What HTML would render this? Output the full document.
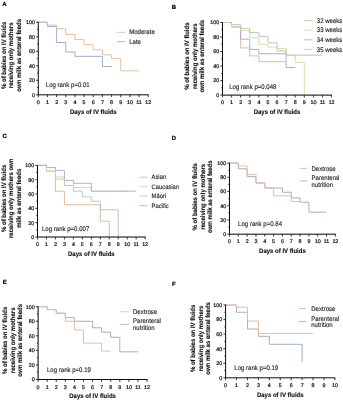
<!DOCTYPE html>
<html><head><meta charset="utf-8"><style>
html,body{margin:0;padding:0;background:#fff;}
svg{display:block;}
text{font-family:"Liberation Sans", sans-serif;text-rendering:geometricPrecision;}
.n{stroke:#222;stroke-width:1.2px;}
.t{stroke:#111;stroke-width:0.22px;}
.L{stroke:#000;stroke-width:0.2px;}
.b{stroke:#000;stroke-width:0.11px;}
</style></head><body>
<svg width="343" height="400" viewBox="0 0 343 400">
<defs><filter id="bl" x="0" y="0" width="343" height="400" filterUnits="userSpaceOnUse"><feGaussianBlur stdDeviation="0.45"/></filter></defs>
<rect width="343" height="400" fill="#fff"/>
<g filter="url(#bl)">
<text x="2.3" y="6.2" class="L" font-size="6.0" font-weight="bold" fill="#000">A</text>
<path d="M38.3 22.2 H47.46 V26.56 H56.62 V42.53 H65.78 V51.97 H74.94 V56.32 H102.42 V66.49 H111.58" fill="none" stroke="#A0AFCC" stroke-width="1.0"/>
<path d="M38.3 22.2 H47.46 V25.1 H56.62 V28.73 H65.78 V34.54 H74.94 V39.62 H84.1 V44.71 H93.26 V49.79 H102.42 V54.87 H111.58 V58.5 H120.74 V70.84 H139.06" fill="none" stroke="#E6BF9F" stroke-width="1.0"/>
<path d="M38.3 21.8 V94.8 H148.62" fill="none" stroke="#0a0a0a" stroke-width="1.0"/>
<path d="M36.1 94.8 H38.3 M37.1 87.54 H38.3 M36.1 80.28 H38.3 M37.1 73.02 H38.3 M36.1 65.76 H38.3 M37.1 58.5 H38.3 M36.1 51.24 H38.3 M37.1 43.98 H38.3 M36.1 36.72 H38.3 M37.1 29.46 H38.3 M36.1 22.2 H38.3 M38.3 94.8 V97.2 M47.46 94.8 V97.2 M56.62 94.8 V97.2 M65.78 94.8 V97.2 M74.94 94.8 V97.2 M84.1 94.8 V97.2 M93.26 94.8 V97.2 M102.42 94.8 V97.2 M111.58 94.8 V97.2 M120.74 94.8 V97.2 M129.9 94.8 V97.2 M139.06 94.8 V97.2 M148.22 94.8 V97.2" fill="none" stroke="#0a0a0a" stroke-width="0.8"/>
<text x="34.9" y="96.7" class="t" font-size="5.3" text-anchor="end" fill="#1a1a1a">0</text>
<text x="34.9" y="82.18" class="t" font-size="5.3" text-anchor="end" fill="#1a1a1a">20</text>
<text x="34.9" y="67.66" class="t" font-size="5.3" text-anchor="end" fill="#1a1a1a">40</text>
<text x="34.9" y="53.14" class="t" font-size="5.3" text-anchor="end" fill="#1a1a1a">60</text>
<text x="34.9" y="38.62" class="t" font-size="5.3" text-anchor="end" fill="#1a1a1a">80</text>
<text x="34.9" y="24.1" class="t" font-size="5.3" text-anchor="end" fill="#1a1a1a">100</text>
<text x="38.3" y="103.9" class="t" font-size="5.3" text-anchor="middle" fill="#1a1a1a">0</text>
<text x="47.46" y="103.9" class="t" font-size="5.3" text-anchor="middle" fill="#1a1a1a">1</text>
<text x="56.62" y="103.9" class="t" font-size="5.3" text-anchor="middle" fill="#1a1a1a">2</text>
<text x="65.78" y="103.9" class="t" font-size="5.3" text-anchor="middle" fill="#1a1a1a">3</text>
<text x="74.94" y="103.9" class="t" font-size="5.3" text-anchor="middle" fill="#1a1a1a">4</text>
<text x="84.1" y="103.9" class="t" font-size="5.3" text-anchor="middle" fill="#1a1a1a">5</text>
<text x="93.26" y="103.9" class="t" font-size="5.3" text-anchor="middle" fill="#1a1a1a">6</text>
<text x="102.42" y="103.9" class="t" font-size="5.3" text-anchor="middle" fill="#1a1a1a">7</text>
<text x="111.58" y="103.9" class="t" font-size="5.3" text-anchor="middle" fill="#1a1a1a">8</text>
<text x="120.74" y="103.9" class="t" font-size="5.3" text-anchor="middle" fill="#1a1a1a">9</text>
<text x="129.9" y="103.9" class="t" font-size="5.3" text-anchor="middle" fill="#1a1a1a">10</text>
<text x="139.06" y="103.9" class="t" font-size="5.3" text-anchor="middle" fill="#1a1a1a">11</text>
<text x="148.22" y="103.9" class="t" font-size="5.3" text-anchor="middle" fill="#1a1a1a">12</text>
<text transform="translate(93.26 113.5) scale(1 1.1)" font-size="6" class="b" font-weight="bold" text-anchor="middle" fill="#111">Days of IV fluids</text>
<text transform="translate(5.8 55.3) rotate(-90) scale(1 1.08)" font-size="6" class="b" font-weight="bold" text-anchor="middle" fill="#111">% of babies on IV fluids</text>
<text transform="translate(13.3 55.3) rotate(-90) scale(1 1.08)" font-size="6" class="b" font-weight="bold" text-anchor="middle" fill="#111">receiving only mothers</text>
<text transform="translate(20.8 55.3) rotate(-90) scale(1 1.08)" font-size="6" class="b" font-weight="bold" text-anchor="middle" fill="#111">own milk as enteral feeds</text>
<text transform="translate(45.8 86.7) scale(0.1 0.1100)" class="n" font-size="60.5" fill="#1a1a1a">Log rank p=0.01</text>
<path d="M116.8 32.3 H125.2" stroke="#E6BF9F" stroke-width="0.9"/>
<text transform="translate(129.2 34.4) scale(0.1 0.1100)" class="n" font-size="60.5" fill="#1a1a1a">Moderate</text>
<path d="M116.8 41.7 H125.2" stroke="#A0AFCC" stroke-width="0.9"/>
<text transform="translate(129.2 43.8) scale(0.1 0.1100)" class="n" font-size="60.5" fill="#1a1a1a">Late</text>
<text x="171.8" y="8.5" class="L" font-size="6.0" font-weight="bold" fill="#000">B</text>
<path d="M222.5 22.5 H231.59 V26.86 H240.68 V47.91 H249.77 V55.9 H258.86 V61.7 H286.13" fill="none" stroke="#E6B7A2" stroke-width="1.0"/>
<path d="M222.5 22.5 H231.59 V26.86 H240.68 V39.2 H249.77 V49.36 H258.86 V53.72 H286.13 V67.51 H295.22" fill="none" stroke="#A8AFD6" stroke-width="1.0"/>
<path d="M222.5 22.5 H231.59 V26.86 H240.68 V30.49 H249.77 V37.75 H258.86 V44.28 H267.95 V47.18 H277.04 V48.64 H286.13 V55.17 H295.22 V62.43 H304.31 V95.1" fill="none" stroke="#E4D7A8" stroke-width="1.0"/>
<path d="M222.5 22.5 H231.59 V24.68 H240.68 V28.31 H249.77 V32.66 H258.86 V36.29 H267.95 V42.83 H277.04 V50.81 H286.13 V55.17 H322.49" fill="none" stroke="#B2CDB2" stroke-width="1.0"/>
<path d="M222.5 22.1 V95.1 H331.98" fill="none" stroke="#0a0a0a" stroke-width="1.0"/>
<path d="M220.3 95.1 H222.5 M221.3 87.84 H222.5 M220.3 80.58 H222.5 M221.3 73.32 H222.5 M220.3 66.06 H222.5 M221.3 58.8 H222.5 M220.3 51.54 H222.5 M221.3 44.28 H222.5 M220.3 37.02 H222.5 M221.3 29.76 H222.5 M220.3 22.5 H222.5 M222.5 95.1 V97.5 M231.59 95.1 V97.5 M240.68 95.1 V97.5 M249.77 95.1 V97.5 M258.86 95.1 V97.5 M267.95 95.1 V97.5 M277.04 95.1 V97.5 M286.13 95.1 V97.5 M295.22 95.1 V97.5 M304.31 95.1 V97.5 M313.4 95.1 V97.5 M322.49 95.1 V97.5 M331.58 95.1 V97.5" fill="none" stroke="#0a0a0a" stroke-width="0.8"/>
<text x="219.1" y="97" class="t" font-size="5.3" text-anchor="end" fill="#1a1a1a">0</text>
<text x="219.1" y="82.48" class="t" font-size="5.3" text-anchor="end" fill="#1a1a1a">20</text>
<text x="219.1" y="67.96" class="t" font-size="5.3" text-anchor="end" fill="#1a1a1a">40</text>
<text x="219.1" y="53.44" class="t" font-size="5.3" text-anchor="end" fill="#1a1a1a">60</text>
<text x="219.1" y="38.92" class="t" font-size="5.3" text-anchor="end" fill="#1a1a1a">80</text>
<text x="219.1" y="24.4" class="t" font-size="5.3" text-anchor="end" fill="#1a1a1a">100</text>
<text x="222.5" y="104.2" class="t" font-size="5.3" text-anchor="middle" fill="#1a1a1a">0</text>
<text x="231.59" y="104.2" class="t" font-size="5.3" text-anchor="middle" fill="#1a1a1a">1</text>
<text x="240.68" y="104.2" class="t" font-size="5.3" text-anchor="middle" fill="#1a1a1a">2</text>
<text x="249.77" y="104.2" class="t" font-size="5.3" text-anchor="middle" fill="#1a1a1a">3</text>
<text x="258.86" y="104.2" class="t" font-size="5.3" text-anchor="middle" fill="#1a1a1a">4</text>
<text x="267.95" y="104.2" class="t" font-size="5.3" text-anchor="middle" fill="#1a1a1a">5</text>
<text x="277.04" y="104.2" class="t" font-size="5.3" text-anchor="middle" fill="#1a1a1a">6</text>
<text x="286.13" y="104.2" class="t" font-size="5.3" text-anchor="middle" fill="#1a1a1a">7</text>
<text x="295.22" y="104.2" class="t" font-size="5.3" text-anchor="middle" fill="#1a1a1a">8</text>
<text x="304.31" y="104.2" class="t" font-size="5.3" text-anchor="middle" fill="#1a1a1a">9</text>
<text x="313.4" y="104.2" class="t" font-size="5.3" text-anchor="middle" fill="#1a1a1a">10</text>
<text x="322.49" y="104.2" class="t" font-size="5.3" text-anchor="middle" fill="#1a1a1a">11</text>
<text x="331.58" y="104.2" class="t" font-size="5.3" text-anchor="middle" fill="#1a1a1a">12</text>
<text transform="translate(277.04 113.8) scale(1 1.1)" font-size="6" class="b" font-weight="bold" text-anchor="middle" fill="#111">Days of IV fluids</text>
<text transform="translate(189.4 56.2) rotate(-90) scale(1 1.08)" font-size="6" class="b" font-weight="bold" text-anchor="middle" fill="#111">% of babies on IV fluids</text>
<text transform="translate(196.9 56.2) rotate(-90) scale(1 1.08)" font-size="6" class="b" font-weight="bold" text-anchor="middle" fill="#111">receiving only mothers</text>
<text transform="translate(204.4 56.2) rotate(-90) scale(1 1.08)" font-size="6" class="b" font-weight="bold" text-anchor="middle" fill="#111">own milk as enteral feeds</text>
<text transform="translate(229.2 89.3) scale(0.1 0.1100)" class="n" font-size="60.5" fill="#1a1a1a">Log rank p=0.048</text>
<path d="M304.5 20.6 H312.7" stroke="#B2CDB2" stroke-width="0.9"/>
<text transform="translate(316.8 22.7) scale(0.1 0.1100)" class="n" font-size="60.5" fill="#1a1a1a">32 weeks</text>
<path d="M304.5 30.2 H312.7" stroke="#E4D7A8" stroke-width="0.9"/>
<text transform="translate(316.8 32.3) scale(0.1 0.1100)" class="n" font-size="60.5" fill="#1a1a1a">33 weeks</text>
<path d="M304.5 39.8 H312.7" stroke="#A8AFD6" stroke-width="0.9"/>
<text transform="translate(316.8 41.9) scale(0.1 0.1100)" class="n" font-size="60.5" fill="#1a1a1a">34 weeks</text>
<path d="M304.5 49.4 H312.7" stroke="#E6B7A2" stroke-width="0.9"/>
<text transform="translate(316.8 51.5) scale(0.1 0.1100)" class="n" font-size="60.5" fill="#1a1a1a">35 weeks</text>
<text x="2.5" y="138.4" class="L" font-size="6.0" font-weight="bold" fill="#000">C</text>
<path d="M37.5 165.4 H46.47 V171.13 H55.44 V191.18 H64.41 V204.78 H100.29 V221.25 H109.26 V237" fill="none" stroke="#E3BC9C" stroke-width="1.0"/>
<path d="M37.5 165.4 H46.47 V167.55 H55.44 V179 H64.41 V185.45 H73.38 V191.18 H82.35 V196.9 H91.32 V201.2 H100.29 V209.79 H118.23 V237" fill="none" stroke="#B5CEB4" stroke-width="1.0"/>
<path d="M37.5 165.4 H46.47 V171.13 H55.44 V176.86 H64.41 V180.44 H73.38 V187.6 H91.32 V191.18 H127.2" fill="none" stroke="#E0D5A8" stroke-width="1.0"/>
<path d="M37.5 165.4 H46.47 V167.55 H55.44 V170.41 H64.41 V180.44 H73.38 V183.3 H91.32 V191.18 H136.17" fill="none" stroke="#A6BAD4" stroke-width="1.0"/>
<path d="M37.5 165 V237 H145.54" fill="none" stroke="#0a0a0a" stroke-width="1.0"/>
<path d="M35.3 237 H37.5 M36.3 229.84 H37.5 M35.3 222.68 H37.5 M36.3 215.52 H37.5 M35.3 208.36 H37.5 M36.3 201.2 H37.5 M35.3 194.04 H37.5 M36.3 186.88 H37.5 M35.3 179.72 H37.5 M36.3 172.56 H37.5 M35.3 165.4 H37.5 M37.5 237 V239.4 M46.47 237 V239.4 M55.44 237 V239.4 M64.41 237 V239.4 M73.38 237 V239.4 M82.35 237 V239.4 M91.32 237 V239.4 M100.29 237 V239.4 M109.26 237 V239.4 M118.23 237 V239.4 M127.2 237 V239.4 M136.17 237 V239.4 M145.14 237 V239.4" fill="none" stroke="#0a0a0a" stroke-width="0.8"/>
<text x="34.1" y="238.9" class="t" font-size="5.3" text-anchor="end" fill="#1a1a1a">0</text>
<text x="34.1" y="224.58" class="t" font-size="5.3" text-anchor="end" fill="#1a1a1a">20</text>
<text x="34.1" y="210.26" class="t" font-size="5.3" text-anchor="end" fill="#1a1a1a">40</text>
<text x="34.1" y="195.94" class="t" font-size="5.3" text-anchor="end" fill="#1a1a1a">60</text>
<text x="34.1" y="181.62" class="t" font-size="5.3" text-anchor="end" fill="#1a1a1a">80</text>
<text x="34.1" y="167.3" class="t" font-size="5.3" text-anchor="end" fill="#1a1a1a">100</text>
<text x="37.5" y="246.1" class="t" font-size="5.3" text-anchor="middle" fill="#1a1a1a">0</text>
<text x="46.47" y="246.1" class="t" font-size="5.3" text-anchor="middle" fill="#1a1a1a">1</text>
<text x="55.44" y="246.1" class="t" font-size="5.3" text-anchor="middle" fill="#1a1a1a">2</text>
<text x="64.41" y="246.1" class="t" font-size="5.3" text-anchor="middle" fill="#1a1a1a">3</text>
<text x="73.38" y="246.1" class="t" font-size="5.3" text-anchor="middle" fill="#1a1a1a">4</text>
<text x="82.35" y="246.1" class="t" font-size="5.3" text-anchor="middle" fill="#1a1a1a">5</text>
<text x="91.32" y="246.1" class="t" font-size="5.3" text-anchor="middle" fill="#1a1a1a">6</text>
<text x="100.29" y="246.1" class="t" font-size="5.3" text-anchor="middle" fill="#1a1a1a">7</text>
<text x="109.26" y="246.1" class="t" font-size="5.3" text-anchor="middle" fill="#1a1a1a">8</text>
<text x="118.23" y="246.1" class="t" font-size="5.3" text-anchor="middle" fill="#1a1a1a">9</text>
<text x="127.2" y="246.1" class="t" font-size="5.3" text-anchor="middle" fill="#1a1a1a">10</text>
<text x="136.17" y="246.1" class="t" font-size="5.3" text-anchor="middle" fill="#1a1a1a">11</text>
<text x="145.14" y="246.1" class="t" font-size="5.3" text-anchor="middle" fill="#1a1a1a">12</text>
<text transform="translate(91.32 255.7) scale(1 1.1)" font-size="6" class="b" font-weight="bold" text-anchor="middle" fill="#111">Days of IV fluids</text>
<text transform="translate(5.8 198.3) rotate(-90) scale(1 1.08)" font-size="6" class="b" font-weight="bold" text-anchor="middle" fill="#111">% of babies on IV fluids</text>
<text transform="translate(13.3 198.3) rotate(-90) scale(1 1.08)" font-size="6" class="b" font-weight="bold" text-anchor="middle" fill="#111">receiving only mothers own</text>
<text transform="translate(20.8 198.3) rotate(-90) scale(1 1.08)" font-size="6" class="b" font-weight="bold" text-anchor="middle" fill="#111">milk as enteral feeds</text>
<text transform="translate(42 231.3) scale(0.1 0.1100)" class="n" font-size="60.5" fill="#1a1a1a">Log rank p=0.007</text>
<path d="M139.2 177.2 H147.9" stroke="#B5CEB4" stroke-width="0.9"/>
<text transform="translate(151.6 179.3) scale(0.1 0.1100)" class="n" font-size="58" fill="#1a1a1a">Asian</text>
<path d="M139.2 186.7 H147.9" stroke="#E0D5A8" stroke-width="0.9"/>
<text transform="translate(151.6 188.8) scale(0.1 0.1100)" class="n" font-size="58" fill="#1a1a1a">Caucasian</text>
<path d="M139.2 196.1 H147.9" stroke="#E3BC9C" stroke-width="0.9"/>
<text transform="translate(151.6 198.2) scale(0.1 0.1100)" class="n" font-size="58" fill="#1a1a1a">Māori</text>
<path d="M139.2 205.7 H147.9" stroke="#A6BAD4" stroke-width="0.9"/>
<text transform="translate(151.6 207.8) scale(0.1 0.1100)" class="n" font-size="58" fill="#1a1a1a">Pacific</text>
<text x="171.8" y="140.1" class="L" font-size="6.0" font-weight="bold" fill="#000">D</text>
<path d="M229.5 163.1 H238.32 V168.79 H247.14 V176.61 H255.96 V183.01 H264.78 V187.98 H282.42 V192.25 H291.24 V197.94 H300.06 V202.2 H308.88 V212.16 H326.52" fill="none" stroke="#A0AFCC" stroke-width="1.0"/>
<path d="M229.5 163.1 H238.32 V165.94 H247.14 V174.48 H255.96 V183.01 H264.78 V187.98 H273.6 V195.81 H291.24 V201.49 H300.06" fill="none" stroke="#E6BF9F" stroke-width="1.0"/>
<path d="M229.5 162.7 V234.2 H335.74" fill="none" stroke="#0a0a0a" stroke-width="1.0"/>
<path d="M227.3 234.2 H229.5 M228.3 227.09 H229.5 M227.3 219.98 H229.5 M228.3 212.87 H229.5 M227.3 205.76 H229.5 M228.3 198.65 H229.5 M227.3 191.54 H229.5 M228.3 184.43 H229.5 M227.3 177.32 H229.5 M228.3 170.21 H229.5 M227.3 163.1 H229.5 M229.5 234.2 V236.6 M238.32 234.2 V236.6 M247.14 234.2 V236.6 M255.96 234.2 V236.6 M264.78 234.2 V236.6 M273.6 234.2 V236.6 M282.42 234.2 V236.6 M291.24 234.2 V236.6 M300.06 234.2 V236.6 M308.88 234.2 V236.6 M317.7 234.2 V236.6 M326.52 234.2 V236.6 M335.34 234.2 V236.6" fill="none" stroke="#0a0a0a" stroke-width="0.8"/>
<text x="226.1" y="236.1" class="t" font-size="5.3" text-anchor="end" fill="#1a1a1a">0</text>
<text x="226.1" y="221.88" class="t" font-size="5.3" text-anchor="end" fill="#1a1a1a">20</text>
<text x="226.1" y="207.66" class="t" font-size="5.3" text-anchor="end" fill="#1a1a1a">40</text>
<text x="226.1" y="193.44" class="t" font-size="5.3" text-anchor="end" fill="#1a1a1a">60</text>
<text x="226.1" y="179.22" class="t" font-size="5.3" text-anchor="end" fill="#1a1a1a">80</text>
<text x="226.1" y="165" class="t" font-size="5.3" text-anchor="end" fill="#1a1a1a">100</text>
<text x="229.5" y="243.3" class="t" font-size="5.3" text-anchor="middle" fill="#1a1a1a">0</text>
<text x="238.32" y="243.3" class="t" font-size="5.3" text-anchor="middle" fill="#1a1a1a">1</text>
<text x="247.14" y="243.3" class="t" font-size="5.3" text-anchor="middle" fill="#1a1a1a">2</text>
<text x="255.96" y="243.3" class="t" font-size="5.3" text-anchor="middle" fill="#1a1a1a">3</text>
<text x="264.78" y="243.3" class="t" font-size="5.3" text-anchor="middle" fill="#1a1a1a">4</text>
<text x="273.6" y="243.3" class="t" font-size="5.3" text-anchor="middle" fill="#1a1a1a">5</text>
<text x="282.42" y="243.3" class="t" font-size="5.3" text-anchor="middle" fill="#1a1a1a">6</text>
<text x="291.24" y="243.3" class="t" font-size="5.3" text-anchor="middle" fill="#1a1a1a">7</text>
<text x="300.06" y="243.3" class="t" font-size="5.3" text-anchor="middle" fill="#1a1a1a">8</text>
<text x="308.88" y="243.3" class="t" font-size="5.3" text-anchor="middle" fill="#1a1a1a">9</text>
<text x="317.7" y="243.3" class="t" font-size="5.3" text-anchor="middle" fill="#1a1a1a">10</text>
<text x="326.52" y="243.3" class="t" font-size="5.3" text-anchor="middle" fill="#1a1a1a">11</text>
<text x="335.34" y="243.3" class="t" font-size="5.3" text-anchor="middle" fill="#1a1a1a">12</text>
<text transform="translate(282.42 252.9) scale(1 1.1)" font-size="6" class="b" font-weight="bold" text-anchor="middle" fill="#111">Days of IV fluids</text>
<text transform="translate(197.2 196.75) rotate(-90) scale(1 1.08)" font-size="6" class="b" font-weight="bold" text-anchor="middle" fill="#111">% of babies on IV fluids</text>
<text transform="translate(204.7 196.75) rotate(-90) scale(1 1.08)" font-size="6" class="b" font-weight="bold" text-anchor="middle" fill="#111">receiving only mothers</text>
<text transform="translate(212.2 196.75) rotate(-90) scale(1 1.08)" font-size="6" class="b" font-weight="bold" text-anchor="middle" fill="#111">own milk as enteral feeds</text>
<text transform="translate(238.1 225.9) scale(0.1 0.1100)" class="n" font-size="60.5" fill="#1a1a1a">Log rank p=0.84</text>
<path d="M300 168.5 H307" stroke="#E6BF9F" stroke-width="0.9"/>
<text transform="translate(311.5 170.6) scale(0.1 0.1100)" class="n" font-size="60.5" fill="#1a1a1a">Dextrose</text>
<path d="M300 180.9 H307" stroke="#A0AFCC" stroke-width="0.9"/>
<text transform="translate(311.5 179.9) scale(0.1 0.1100)" class="n" font-size="60.5" fill="#1a1a1a">Parenteral</text>
<text transform="translate(311.5 186.6) scale(0.1 0.1100)" class="n" font-size="60.5" fill="#1a1a1a">nutrition</text>
<text x="2.8" y="284.3" class="L" font-size="6.0" font-weight="bold" fill="#000">E</text>
<path d="M38.1 306.7 H47.18 V309.61 H56.26 V313.25 H65.34 V317.62 H74.42 V321.26 H92.58 V327.81 H101.66 V332.18 H110.74 V337.28 H119.82 V351.84 H137.98" fill="none" stroke="#A0AFCC" stroke-width="1.0"/>
<path d="M38.1 306.7 H47.18 V309.61 H56.26 V313.25 H65.34 V321.26 H74.42 V330 H83.5 V343.1 H101.66 V351.11 H110.74" fill="none" stroke="#E6BF9F" stroke-width="1.0"/>
<path d="M38.1 306.3 V379.5 H147.46" fill="none" stroke="#0a0a0a" stroke-width="1.0"/>
<path d="M35.9 379.5 H38.1 M36.9 372.22 H38.1 M35.9 364.94 H38.1 M36.9 357.66 H38.1 M35.9 350.38 H38.1 M36.9 343.1 H38.1 M35.9 335.82 H38.1 M36.9 328.54 H38.1 M35.9 321.26 H38.1 M36.9 313.98 H38.1 M35.9 306.7 H38.1 M38.1 379.5 V381.9 M47.18 379.5 V381.9 M56.26 379.5 V381.9 M65.34 379.5 V381.9 M74.42 379.5 V381.9 M83.5 379.5 V381.9 M92.58 379.5 V381.9 M101.66 379.5 V381.9 M110.74 379.5 V381.9 M119.82 379.5 V381.9 M128.9 379.5 V381.9 M137.98 379.5 V381.9 M147.06 379.5 V381.9" fill="none" stroke="#0a0a0a" stroke-width="0.8"/>
<text x="34.7" y="381.4" class="t" font-size="5.3" text-anchor="end" fill="#1a1a1a">0</text>
<text x="34.7" y="366.84" class="t" font-size="5.3" text-anchor="end" fill="#1a1a1a">20</text>
<text x="34.7" y="352.28" class="t" font-size="5.3" text-anchor="end" fill="#1a1a1a">40</text>
<text x="34.7" y="337.72" class="t" font-size="5.3" text-anchor="end" fill="#1a1a1a">60</text>
<text x="34.7" y="323.16" class="t" font-size="5.3" text-anchor="end" fill="#1a1a1a">80</text>
<text x="34.7" y="308.6" class="t" font-size="5.3" text-anchor="end" fill="#1a1a1a">100</text>
<text x="38.1" y="388.6" class="t" font-size="5.3" text-anchor="middle" fill="#1a1a1a">0</text>
<text x="47.18" y="388.6" class="t" font-size="5.3" text-anchor="middle" fill="#1a1a1a">1</text>
<text x="56.26" y="388.6" class="t" font-size="5.3" text-anchor="middle" fill="#1a1a1a">2</text>
<text x="65.34" y="388.6" class="t" font-size="5.3" text-anchor="middle" fill="#1a1a1a">3</text>
<text x="74.42" y="388.6" class="t" font-size="5.3" text-anchor="middle" fill="#1a1a1a">4</text>
<text x="83.5" y="388.6" class="t" font-size="5.3" text-anchor="middle" fill="#1a1a1a">5</text>
<text x="92.58" y="388.6" class="t" font-size="5.3" text-anchor="middle" fill="#1a1a1a">6</text>
<text x="101.66" y="388.6" class="t" font-size="5.3" text-anchor="middle" fill="#1a1a1a">7</text>
<text x="110.74" y="388.6" class="t" font-size="5.3" text-anchor="middle" fill="#1a1a1a">8</text>
<text x="119.82" y="388.6" class="t" font-size="5.3" text-anchor="middle" fill="#1a1a1a">9</text>
<text x="128.9" y="388.6" class="t" font-size="5.3" text-anchor="middle" fill="#1a1a1a">10</text>
<text x="137.98" y="388.6" class="t" font-size="5.3" text-anchor="middle" fill="#1a1a1a">11</text>
<text x="147.06" y="388.6" class="t" font-size="5.3" text-anchor="middle" fill="#1a1a1a">12</text>
<text transform="translate(92.58 398.2) scale(1 1.1)" font-size="6" class="b" font-weight="bold" text-anchor="middle" fill="#111">Days of IV fluids</text>
<text transform="translate(7 340.3) rotate(-90) scale(1 1.08)" font-size="6" class="b" font-weight="bold" text-anchor="middle" fill="#111">% of babies on IV fluids</text>
<text transform="translate(14.5 340.3) rotate(-90) scale(1 1.08)" font-size="6" class="b" font-weight="bold" text-anchor="middle" fill="#111">receiving only mothers</text>
<text transform="translate(22 340.3) rotate(-90) scale(1 1.08)" font-size="6" class="b" font-weight="bold" text-anchor="middle" fill="#111">own milk as enteral feeds</text>
<text transform="translate(47 372) scale(0.1 0.1100)" class="n" font-size="60.5" fill="#1a1a1a">Log rank p=0.19</text>
<path d="M120.5 311.8 H129" stroke="#E6BF9F" stroke-width="0.9"/>
<text transform="translate(133 313.9) scale(0.1 0.1100)" class="n" font-size="60.5" fill="#1a1a1a">Dextrose</text>
<path d="M120.5 324.4 H129" stroke="#A0AFCC" stroke-width="0.9"/>
<text transform="translate(133 323.4) scale(0.1 0.1100)" class="n" font-size="60.5" fill="#1a1a1a">Parenteral</text>
<text transform="translate(133 330.1) scale(0.1 0.1100)" class="n" font-size="60.5" fill="#1a1a1a">nutrition</text>
<text x="172" y="286.1" class="L" font-size="6.0" font-weight="bold" fill="#000">F</text>
<path d="M225.6 305 H236.53 V312.28 H247.46 V329.02 H258.39 V336.3 H269.32 V344.31 H302.11 V361.78" fill="none" stroke="#A0AFCC" stroke-width="1.0"/>
<path d="M225.6 305 H236.53 V307.18 H247.46 V321.02 H258.39 V333.39 H313.04" fill="none" stroke="#E6BF9F" stroke-width="1.0"/>
<path d="M225.6 304.6 V377.8 H335.3" fill="none" stroke="#0a0a0a" stroke-width="1.0"/>
<path d="M223.4 377.8 H225.6 M224.4 370.52 H225.6 M223.4 363.24 H225.6 M224.4 355.96 H225.6 M223.4 348.68 H225.6 M224.4 341.4 H225.6 M223.4 334.12 H225.6 M224.4 326.84 H225.6 M223.4 319.56 H225.6 M224.4 312.28 H225.6 M223.4 305 H225.6 M225.6 377.8 V380.2 M236.53 377.8 V380.2 M247.46 377.8 V380.2 M258.39 377.8 V380.2 M269.32 377.8 V380.2 M280.25 377.8 V380.2 M291.18 377.8 V380.2 M302.11 377.8 V380.2 M313.04 377.8 V380.2 M323.97 377.8 V380.2 M334.9 377.8 V380.2" fill="none" stroke="#0a0a0a" stroke-width="0.8"/>
<text x="222.2" y="379.7" class="t" font-size="5.3" text-anchor="end" fill="#1a1a1a">0</text>
<text x="222.2" y="365.14" class="t" font-size="5.3" text-anchor="end" fill="#1a1a1a">20</text>
<text x="222.2" y="350.58" class="t" font-size="5.3" text-anchor="end" fill="#1a1a1a">40</text>
<text x="222.2" y="336.02" class="t" font-size="5.3" text-anchor="end" fill="#1a1a1a">60</text>
<text x="222.2" y="321.46" class="t" font-size="5.3" text-anchor="end" fill="#1a1a1a">80</text>
<text x="222.2" y="306.9" class="t" font-size="5.3" text-anchor="end" fill="#1a1a1a">100</text>
<text x="225.6" y="386.9" class="t" font-size="5.3" text-anchor="middle" fill="#1a1a1a">0</text>
<text x="236.53" y="386.9" class="t" font-size="5.3" text-anchor="middle" fill="#1a1a1a">1</text>
<text x="247.46" y="386.9" class="t" font-size="5.3" text-anchor="middle" fill="#1a1a1a">2</text>
<text x="258.39" y="386.9" class="t" font-size="5.3" text-anchor="middle" fill="#1a1a1a">3</text>
<text x="269.32" y="386.9" class="t" font-size="5.3" text-anchor="middle" fill="#1a1a1a">4</text>
<text x="280.25" y="386.9" class="t" font-size="5.3" text-anchor="middle" fill="#1a1a1a">5</text>
<text x="291.18" y="386.9" class="t" font-size="5.3" text-anchor="middle" fill="#1a1a1a">6</text>
<text x="302.11" y="386.9" class="t" font-size="5.3" text-anchor="middle" fill="#1a1a1a">7</text>
<text x="313.04" y="386.9" class="t" font-size="5.3" text-anchor="middle" fill="#1a1a1a">8</text>
<text x="323.97" y="386.9" class="t" font-size="5.3" text-anchor="middle" fill="#1a1a1a">9</text>
<text x="334.9" y="386.9" class="t" font-size="5.3" text-anchor="middle" fill="#1a1a1a">10</text>
<text transform="translate(280.25 396.5) scale(1 1.1)" font-size="6" class="b" font-weight="bold" text-anchor="middle" fill="#111">Days of IV fluids</text>
<text transform="translate(195.4 338.4) rotate(-90) scale(1 1.08)" font-size="6" class="b" font-weight="bold" text-anchor="middle" fill="#111">% of babies on IV fluids</text>
<text transform="translate(202.9 338.4) rotate(-90) scale(1 1.08)" font-size="6" class="b" font-weight="bold" text-anchor="middle" fill="#111">receiving only mothers</text>
<text transform="translate(210.4 338.4) rotate(-90) scale(1 1.08)" font-size="6" class="b" font-weight="bold" text-anchor="middle" fill="#111">own milk as enteral feeds</text>
<text transform="translate(234.3 370) scale(0.1 0.1100)" class="n" font-size="60.5" fill="#1a1a1a">Log rank p=0.19</text>
<path d="M298.5 308.5 H306.2" stroke="#E6BF9F" stroke-width="0.9"/>
<text transform="translate(311.2 310.6) scale(0.1 0.1100)" class="n" font-size="60.5" fill="#1a1a1a">Dextrose</text>
<path d="M298.5 321.6 H306.2" stroke="#A0AFCC" stroke-width="0.9"/>
<text transform="translate(311.2 320.6) scale(0.1 0.1100)" class="n" font-size="60.5" fill="#1a1a1a">Parenteral</text>
<text transform="translate(311.2 327.3) scale(0.1 0.1100)" class="n" font-size="60.5" fill="#1a1a1a">nutrition</text>
</g>
</svg>
</body></html>
